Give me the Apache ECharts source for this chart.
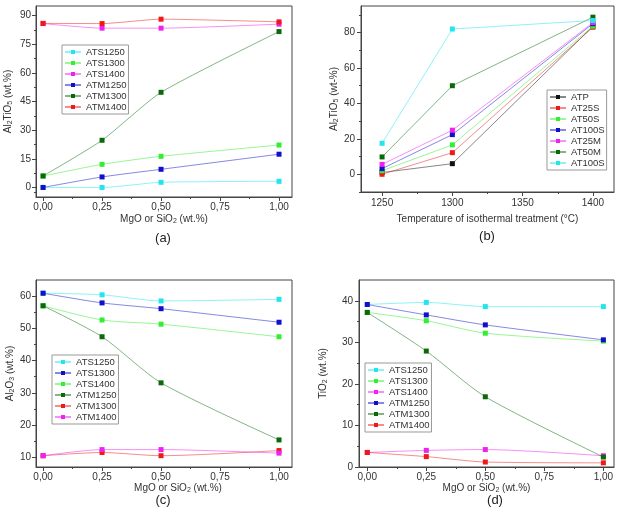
<!DOCTYPE html>
<html>
<head>
<meta charset="utf-8">
<script src="https://cdn.jsdelivr.net/npm/echarts@6/dist/echarts.min.js"></script>
<style>
  html, body { margin: 0; padding: 0; background: #fff; }
  #chart { width: 620px; height: 511px; }
</style>
</head>
<body>
<div id="chart"></div>
<script>
// x values shared by panels a, c, d (additive content, wt.%)
const additive = [0, 0.25, 0.5, 1.0];
// x values of panel b (isothermal treatment temperature, °C)
const temperature = [1250, 1300, 1400];

// (a) Al2TiO5 content
const aNames = ["ATS1250", "ATS1300", "ATS1400", "ATM1250", "ATM1300", "ATM1400"];
const aColors = ["#22e5ee", "#33ee33", "#ee22ee", "#1010cc", "#0a6a0a", "#ee1a1a"];
const aValues = [
  [0, 0, 2.7, 3.2],
  [6, 12.1, 16.3, 22.2],
  [85.8, 83.4, 83.4, 85.5],
  [0, 5.5, 9.5, 17.4],
  [6, 24.7, 49.8, 81.6],
  [85.9, 85.8, 88.1, 86.7],
];

// (b) Al2TiO5 vs temperature
const bNames = ["ATP", "AT25S", "AT50S", "AT100S", "AT25M", "AT50M", "AT100S"];
const bColors = ["#111111", "#ee1a1a", "#33ee33", "#1010cc", "#ee22ee", "#0a6a0a", "#22e5ee"];
const bValues = [
  [1, 6, 83.5],
  [0, 12.2, 83],
  [2, 16.6, 83.6],
  [3.2, 22.4, 85],
  [5.6, 24.9, 85.6],
  [9.8, 50, 88.7],
  [17.5, 82, 86.8],
];

// (c) Al2O3 content
const cNames = ["ATS1250", "ATS1300", "ATS1400", "ATM1250", "ATM1300", "ATM1400"];
const cColors = ["#22e5ee", "#1010cc", "#33ee33", "#0a6a0a", "#ee1a1a", "#ee22ee"];
const cValues = [
  [60.9, 60.4, 58.5, 59],
  [60.9, 57.9, 56.1, 51.9],
  [57, 52.6, 51.3, 47.4],
  [57, 47.4, 33.1, 15.4],
  [10.5, 11.5, 10.5, 12.1],
  [10.5, 12.4, 12.4, 11.3],
];

// (d) TiO2 content
const dNames = ["ATS1250", "ATS1300", "ATS1400", "ATM1250", "ATM1300", "ATM1400"];
const dColors = ["#22e5ee", "#33ee33", "#ee22ee", "#1010cc", "#0a6a0a", "#ee1a1a"];
const dValues = [
  [39.1, 39.6, 38.6, 38.6],
  [37.2, 35.2, 32.2, 30.3],
  [3.5, 4, 4.2, 2.7],
  [39.1, 36.6, 34.2, 30.6],
  [37.2, 27.9, 16.9, 2.4],
  [3.5, 2.5, 1.2, 1],
];

const FONT = "Liberation Sans, Arial, sans-serif";
const TXT = "#333";
const AX = "#444";
const comma = (v) => v.toFixed(2).replace(".", ",");
const plain = (v) => String(v);
const subRich = {
  s: { fontSize: 7, fontFamily: FONT, color: TXT, verticalAlign: "bottom", padding: [4, 0, 0, 0] },
};

const chart = echarts.init(document.getElementById("chart"));

const grids = [];
const xAxes = [];
const yAxes = [];
const series = [];
const legends = [];

function mainAxis(grid, cfg) {
  return {
    type: "value",
    gridIndex: grid,
    min: cfg.min,
    max: cfg.max,
    position: cfg.position,
    axisLine: { show: true, onZero: false, lineStyle: { color: AX, width: 1 } },
    axisTick: { show: true, length: 4, customValues: cfg.major, lineStyle: { color: AX } },
    axisLabel: {
      customValues: cfg.major,
      formatter: cfg.formatter || plain,
      margin: cfg.margin,
      fontSize: 10,
      fontFamily: FONT,
      color: TXT,
    },
    splitLine: { show: false },
    name: cfg.name,
    nameLocation: "middle",
    nameGap: cfg.nameGap,
    nameTextStyle: { fontSize: 10, fontFamily: FONT, color: TXT, rich: subRich, padding: cfg.namePad || 0 },
  };
}

function minorAxis(grid, cfg) {
  return {
    type: "value",
    gridIndex: grid,
    min: cfg.min,
    max: cfg.max,
    position: cfg.position,
    offset: 0,
    axisLine: { show: false, onZero: false },
    axisTick: { show: true, length: 2, customValues: cfg.minor, lineStyle: { color: AX } },
    axisLabel: { show: false },
    splitLine: { show: false },
  };
}

function addPanel(p) {
  const g = grids.length;
  grids.push({
    left: p.box[0], top: p.box[1], width: p.box[2], height: p.box[3],
    show: true, borderColor: AX, borderWidth: 1, backgroundColor: "transparent",
  });
  const xc = Object.assign({ position: "bottom" }, p.x);
  const yc = Object.assign({ position: "left" }, p.y);
  xAxes.push(mainAxis(g, xc), minorAxis(g, xc));
  yAxes.push(mainAxis(g, yc), minorAxis(g, yc));
  const legendNames = [];
  p.names.forEach((n, i) => {
    const id = p.tag + "|" + n + "|" + i;
    legendNames.push(id);
    series.push({
      name: id,
      type: "line",
      xAxisIndex: g * 2,
      yAxisIndex: g * 2,
      smooth: p.smooth,
      symbol: "rect",
      symbolSize: 5,
      itemStyle: { color: p.colors[i] },
      lineStyle: { color: p.colors[i], width: 1, opacity: 0.5 },
      data: p.xs.map((x, k) => [x, p.values[i][k]]),
      z: 2 + i,
    });
  });
  legends.push({
    data: legendNames,
    orient: "vertical",
    left: p.legend[0],
    top: p.legend[1],
    itemWidth: 16,
    itemHeight: 5,
    itemGap: 1,
    padding: [2, 2, 2, 2],
    borderColor: "#999",
    borderWidth: 1,
    formatter: (name) => name.split("|")[1],
    textStyle: { fontSize: 9.5, fontFamily: FONT, color: TXT, lineHeight: 9.5 },
  });
}

const fracMajor = [0, 0.25, 0.5, 0.75, 1.0];
const fracMinor = [0.125, 0.375, 0.625, 0.875];

addPanel({
  tag: "a", box: [36, 6, 256, 191], xs: additive, names: aNames, colors: aColors, values: aValues,
  smooth: 0.2, legend: [62, 45],
  x: { min: -0.03, max: 1.055, major: fracMajor, minor: fracMinor, formatter: comma, margin: 5,
       name: "MgO or SiO{s|2} (wt.%)", nameGap: 17 },
  y: { min: -5, max: 95, major: [0, 15, 30, 45, 60, 75, 90], minor: [-2.5, 7.5, 22.5, 37.5, 52.5, 67.5, 82.5],
       margin: 5, name: "Al{s|2}TiO{s|5} (wt.%)", nameGap: 22 },
});

addPanel({
  tag: "b", box: [361, 6, 253, 186], xs: temperature, names: bNames, colors: bColors, values: bValues,
  smooth: false, legend: [547, 90],
  x: { min: 1235, max: 1415, major: [1250, 1300, 1350, 1400], minor: [1275, 1325, 1375],
       margin: 6, name: "Temperature of isothermal treatment (°C)", nameGap: 22 },
  y: { min: -10, max: 95, major: [0, 20, 40, 60, 80], minor: [-10, 10, 30, 50, 70, 90],
       margin: 6, name: "Al{s|2}TiO{s|5} (wt-%)", nameGap: 18 },
});

addPanel({
  tag: "c", box: [36, 280, 256, 187], xs: additive, names: cNames, colors: cColors, values: cValues,
  smooth: 0.25, legend: [52, 355],
  x: { min: -0.03, max: 1.055, major: fracMajor, minor: fracMinor, formatter: comma, margin: 5,
       name: "MgO or SiO{s|2} (wt.%)", nameGap: 11, namePad: [0, 0, 0, 28] },
  y: { min: 7, max: 65, major: [10, 20, 30, 40, 50, 60], minor: [15, 25, 35, 45, 55],
       margin: 5, name: "Al{s|2}O{s|3} (wt.%)", nameGap: 18 },
});

addPanel({
  tag: "d", box: [359, 280, 255, 187], xs: additive, names: dNames, colors: dColors, values: dValues,
  smooth: 0.25, legend: [365, 363],
  x: { min: -0.035, max: 1.045, major: fracMajor, minor: fracMinor, formatter: comma, margin: 5,
       name: "MgO or SiO{s|2} (wt.%)", nameGap: 12 },
  y: { min: 0, max: 45, major: [0, 10, 20, 30, 40], minor: [5, 15, 25, 35],
       margin: 6, name: "TiO{s|2} (wt.%)", nameGap: 30 },
});

const captionStyle = { fontSize: 13, fontWeight: "normal", fontFamily: FONT, color: "#222" };
const titles = [
  { text: "(a)", left: 163, top: 232 },
  { text: "(b)", left: 487, top: 230 },
  { text: "(c)", left: 163, top: 494 },
  { text: "(d)", left: 495, top: 494 },
].map((t) => Object.assign({ textAlign: "center", padding: 0, textStyle: captionStyle }, t));

chart.setOption({
  animation: false,
  title: titles,
  grid: grids,
  xAxis: xAxes,
  yAxis: yAxes,
  legend: legends,
  series: series,
});
</script>
</body>
</html>
